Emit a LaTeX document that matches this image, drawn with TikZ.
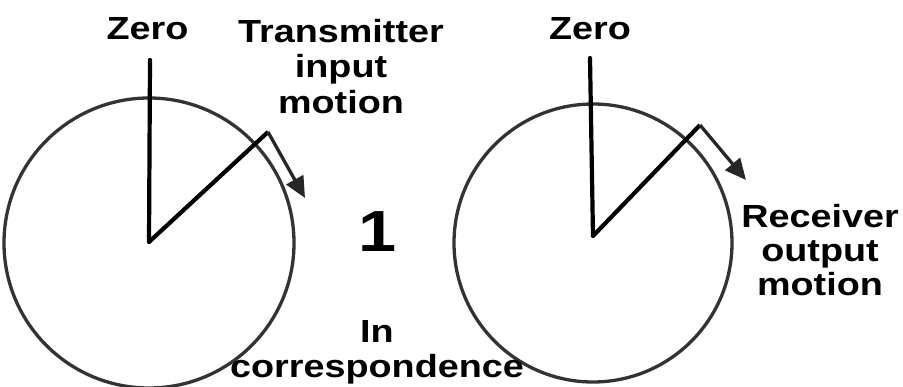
\documentclass[tikz,border=0pt]{standalone}
\usepackage{fontspec}
\setmainfont{Liberation Sans}
\usetikzlibrary{arrows.meta}
\newcommand\widetext[1]{\scalebox{1.18}[1]{#1}}
\begin{document}
\begin{tikzpicture}[x=1pt,y=-1pt,
  dial/.style={draw=black!80,line width=3.3pt},
  pointer/.style={draw=black,line width=4.2pt,line cap=round},
  motion/.style={draw=black!85,line width=3.3pt,line join=miter,-{Triangle[length=21pt,width=19pt]}},
  lbl/.style={font=\bfseries\fontsize{32}{35.5}\selectfont,align=center,inner sep=0pt,anchor=north}]
\useasboundingbox (0,0) rectangle (903,387);
\fill[white] (0,0) rectangle (903,387);
% left dial
\coordinate (c1) at (149,242);
\draw[dial] (149,243) circle (145);
\coordinate (z1) at (150,60);
\coordinate (k1) at (268,132);
\coordinate (t1) at (305,198);
\draw[pointer] (c1) -- (z1);
\draw[pointer,line cap=butt] (c1) -- (k1);
\draw[motion] (k1) -- (t1);
% right dial
\coordinate (c2) at (593,236);
\draw[dial] (593,243) circle (139);
\coordinate (z2) at (590,58);
\coordinate (k2) at (700,125);
\coordinate (t2) at (746,180);
\draw[pointer] (c2) -- (z2);
\draw[pointer,line cap=butt] (c2) -- (k2);
\draw[motion] (k2) -- (t2);
% labels
\node[lbl] (zero1) at (147.5,17) {\widetext{Zero}};
\node[lbl] (tx) at (341,19) {\widetext{Transmitter}\\\widetext{input}\\\widetext{motion}};
\node[lbl] (zero2) at (590,17) {\widetext{Zero}};
\node[lbl,font=\bfseries\fontsize{32}{34}\selectfont] (rx) at (820,204) {\widetext{Receiver}\\\widetext{output}\\\widetext{motion}};
\node[font=\bfseries\fontsize{58}{60}\selectfont,inner sep=0pt,anchor=base] (one) at (378,252) {\widetext{1}};
\node[lbl,font=\bfseries\fontsize{32}{35}\selectfont] (corr) at (377,320) {\widetext{In}\\\widetext{correspondence}};
\end{tikzpicture}
\end{document}
